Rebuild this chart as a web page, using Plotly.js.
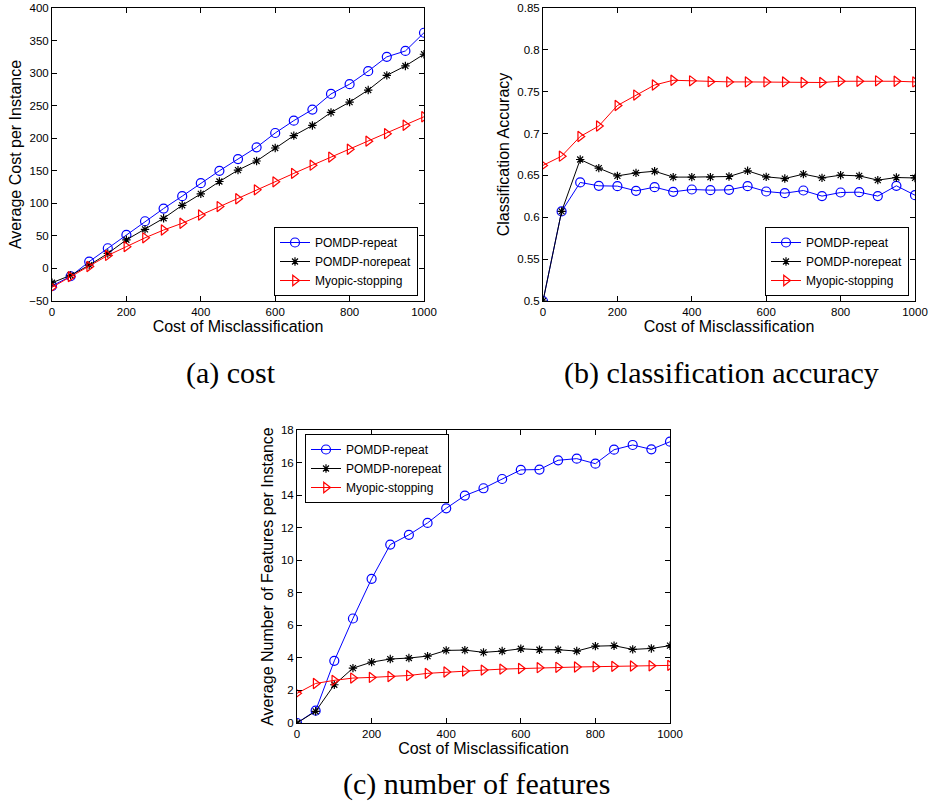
<!DOCTYPE html>
<html>
<head>
<meta charset="utf-8">
<script src="https://cdn.plot.ly/plotly-3.0.1.min.js"></script>
<style>html,body{margin:0;padding:0;background:#fff;}#chart{width:930px;height:810px;}</style>
</head>
<body>
<div id="chart"></div>
<script>
// ---- data ----
const costMis = [0,50,100,150,200,250,300,350,400,450,500,550,600,650,700,750,800,850,900,950,1000];
const seriesNames = ["POMDP-repeat","POMDP-norepeat","Myopic-stopping"];

const costRepeat   = [-27,-12,10.5,31,51.5,72.5,92,111,131,150,168,186,208,227,244,268,283,303,325,334,362];
const costNorepeat = [-22,-10.6,5,23,44,60,77,97,114.5,133.5,151,165,185,204,219.6,239.6,255.5,274,296.5,311,329];
const costMyopic   = [-29,-12.6,3,20,33.5,47,59,69.4,82,95,107,120.7,133,146,158.6,171,183,195.5,207,220,233];

const accRepeat   = [0.5,0.607,0.6416,0.6376,0.6372,0.6316,0.636,0.6304,0.6332,0.6324,0.6328,0.6372,0.6308,0.6288,0.632,0.6253,0.6296,0.630,0.6253,0.6376,0.6264];
const accNorepeat = [0.5,0.607,0.669,0.6587,0.6495,0.653,0.655,0.648,0.648,0.648,0.6487,0.6555,0.6483,0.6463,0.6515,0.6471,0.6503,0.6495,0.6444,0.6475,0.647];
const accMyopic   = [0.662,0.673,0.6965,0.709,0.7335,0.746,0.758,0.7637,0.763,0.762,0.7617,0.7617,0.7617,0.7617,0.761,0.761,0.7625,0.7625,0.763,0.7625,0.7617];

const featRepeat   = [0,0.76,3.82,6.42,8.86,10.96,11.56,12.29,13.19,13.97,14.42,14.99,15.55,15.57,16.14,16.24,15.93,16.79,17.08,16.81,17.28];
const featNorepeat = [0,0.72,2.35,3.37,3.74,3.93,3.99,4.11,4.46,4.48,4.34,4.42,4.56,4.50,4.50,4.42,4.72,4.75,4.52,4.58,4.75];
const featMyopic   = [1.82,2.43,2.62,2.76,2.80,2.86,2.92,3.05,3.13,3.19,3.25,3.31,3.35,3.40,3.42,3.44,3.46,3.48,3.50,3.52,3.54];

const captions = ["(a) cost","(b) classification accuracy","(c) number of features"];
const xTitle = "Cost of Misclassification";
const yTitles = ["Average Cost per Instance","Classification Accuracy","Average Number of Features per Instance"];

// ---- styles ----
const styles = [
  {color:"#0000ff", symbol:"circle-open", size:9},
  {color:"#000000", symbol:"asterisk-open", size:7},
  {color:"#ff0000", symbol:"triangle-right-open", size:9}
];
const FONT = "Liberation Sans, Arial, Helvetica, sans-serif";

function mk(y, i, xa, ya, leg){
  return {x: costMis, y: y, name: seriesNames[i], mode:"lines+markers",
    xaxis: xa, yaxis: ya, legend: leg,
    line:{color:styles[i].color, width:1},
    marker:{symbol:styles[i].symbol, size:styles[i].size, color:styles[i].color, line:{color:styles[i].color, width:1.2}}};
}

const traces = [
  mk(costRepeat,0,"x","y","legend"), mk(costNorepeat,1,"x","y","legend"), mk(costMyopic,2,"x","y","legend"),
  mk(accRepeat,0,"x2","y2","legend2"), mk(accNorepeat,1,"x2","y2","legend2"), mk(accMyopic,2,"x2","y2","legend2"),
  mk(featRepeat,0,"x3","y3","legend3"), mk(featNorepeat,1,"x3","y3","legend3"), mk(featMyopic,2,"x3","y3","legend3")
];

const W = 930, H = 810;
function axBase(extra){
  return Object.assign({showline:true, linecolor:"#000", linewidth:1, mirror:"ticks",
    ticks:"inside", ticklen:5, tickcolor:"#000", showgrid:false, zeroline:false,
    tickfont:{family:FONT, size:11.5, color:"#000"}}, extra);
}
function xAx(dom, anchor){
  return axBase({domain:dom, anchor:anchor, range:[0,1000], tickmode:"linear", tick0:0, dtick:200,
    title:{text:xTitle, font:{family:FONT, size:16, color:"#000"}, standoff:2}});
}
function yAx(dom, anchor, range, dtick, title){
  return axBase({domain:dom, anchor:anchor, range:range, tickmode:"linear", tick0:range[0], dtick:dtick,
    title:{text:title, font:{family:FONT, size:16, color:"#000"}, standoff:3}});
}
function legendAt(px, py, anchor){
  return {x:px/W, y:1-py/H, xanchor:"left", yanchor:anchor, bgcolor:"#fff", bordercolor:"#000", borderwidth:1,
    font:{family:FONT, size:12, color:"#000"}, tracegroupgap:0, itemwidth:30};
}

const layout = {
  width:W, height:H, margin:{l:0,r:0,t:0,b:0}, paper_bgcolor:"#fff", plot_bgcolor:"#fff",
  showlegend:true,
  xaxis: xAx([52/W, 424/W], "y"),
  yaxis: yAx([1-301/H, 1-8/H], "x", [-50,400], 50, yTitles[0]),
  xaxis2: xAx([543/W, 915/W], "y2"),
  yaxis2: yAx([1-301/H, 1-8/H], "x2", [0.5,0.85], 0.05, yTitles[1]),
  xaxis3: xAx([297/W, 670/W], "y3"),
  yaxis3: yAx([1-723/H, 1-430/H], "x3", [0,18], 2, yTitles[2]),
  legend: legendAt(274, 296, "bottom"),
  legend2: legendAt(765, 296, "bottom"),
  legend3: legendAt(305, 434, "top"),
  annotations: [
    {text:captions[0], x:231/W, y:1-373/H},
    {text:captions[1], x:721/W, y:1-373/H},
    {text:captions[2], x:476/W, y:1-784/H}
  ].map(a => Object.assign(a, {xref:"paper", yref:"paper", xanchor:"center", yanchor:"middle", showarrow:false,
    font:{family:"Liberation Serif, Times New Roman, serif", size:30, color:"#000"}}))
};

Plotly.newPlot("chart", traces, layout, {staticPlot:true});
</script>
</body>
</html>
